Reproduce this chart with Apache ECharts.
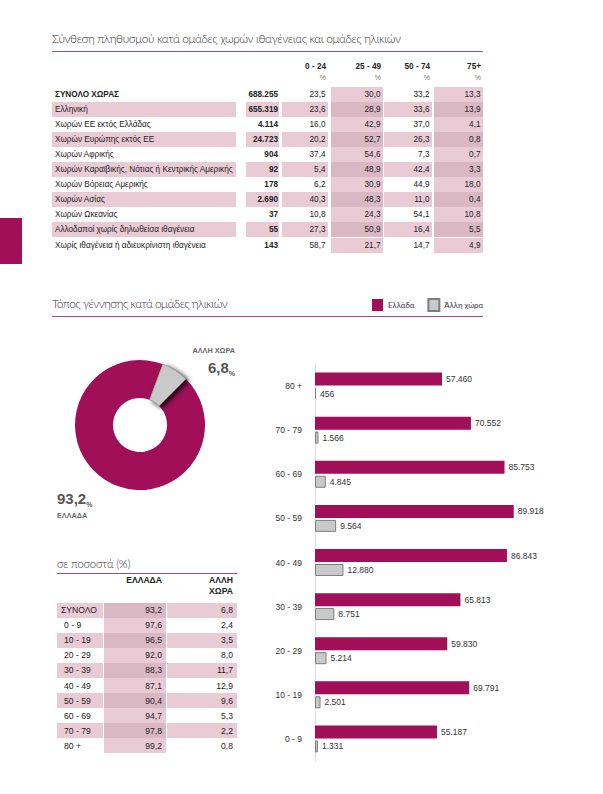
<!DOCTYPE html>
<html><head><meta charset="utf-8">
<script src="https://cdn.jsdelivr.net/npm/echarts@6/dist/echarts.min.js"></script>
<style>
body{margin:0;background:#fff;width:603px;height:794px;position:relative;overflow:hidden;font-family:"Liberation Sans",Arial,sans-serif;color:#222}
#chart{position:absolute;left:0;top:0;width:603px;height:794px}
.abs{position:absolute;white-space:nowrap}
.title{font-family:Lato,sans-serif;font-weight:300;font-size:11.9px;letter-spacing:-0.4px;color:#333;line-height:16px}
.rule{position:absolute;height:1px;background:#a4507e}
.cell{position:absolute;box-sizing:border-box;white-space:nowrap;display:flex;align-items:center}
</style></head>
<body>
<div id="chart"></div>
<div id="tables"></div>
<script>
// ---------- DATA ----------
const groups = ['ΣΥΝΟΛΟ ΧΩΡΑΣ','Ελληνική','Χωρών ΕΕ εκτός Ελλάδας','Χωρών Ευρώπης εκτός ΕΕ','Χωρών Αφρικής','Χωρών Καραϊβικής, Νότιας ή Κεντρικής Αμερικής','Χωρών Βόρειας Αμερικής','Χωρών Ασίας','Χωρών Ωκεανίας','Αλλοδαποί χωρίς δηλωθείσα ιθαγένεια','Χωρίς ιθαγένεια ή αδιευκρίνιστη ιθαγένεια'];
const groupTotals = [688255,655319,4114,24723,904,92,178,2690,37,55,143];
const ageBands = ['0 - 24','25 - 49','50 - 74','75+'];
const age0_24 = [23.5,23.6,16.0,20.2,37.4,5.4,6.2,40.3,10.8,27.3,58.7];
const age25_49 = [30.0,28.9,42.9,52.7,54.6,48.9,30.9,48.3,24.3,50.9,21.7];
const age50_74 = [33.2,33.6,37.0,26.3,7.3,42.4,44.9,11.0,54.1,16.4,14.7];
const age75p = [13.3,13.9,4.1,0.8,0.7,3.3,18.0,0.4,10.8,5.5,4.9];

const pieNames = ['ΕΛΛΑΔΑ','ΑΛΛΗ ΧΩΡΑ'];
const pieValues = [93.2, 6.8];

const ageGroups = ['0 - 9','10 - 19','20 - 29','30 - 39','40 - 49','50 - 59','60 - 69','70 - 79','80 +'];
const bornGreece = [55187,69791,59830,65813,86843,89918,85753,70552,57460];
const bornOther = [1331,2501,5214,8751,12880,9564,4845,1566,456];

const pctRows = ['ΣΥΝΟΛΟ','0 - 9','10 - 19','20 - 29','30 - 39','40 - 49','50 - 59','60 - 69','70 - 79','80 +'];
const pctGreece = [93.2,97.6,96.5,92.0,88.3,87.1,90.4,94.7,97.8,99.2];
const pctOther = [6.8,2.4,3.5,8.0,11.7,12.9,9.6,5.3,2.2,0.8];

const seriesNames = ['Ελλάδα','Άλλη χώρα'];

// ---------- helpers ----------
const dec = v => v.toFixed(1).replace('.', ',');
const thou = v => String(v).replace(/\B(?=(\d{3})+(?!\d))/g, '.');
const MAG = '#a00f58', PINK = '#e9cbd6', PINK2 = '#d9b8c4';
const root = document.getElementById('tables');
function add(html){ root.insertAdjacentHTML('beforeend', html); }
function text(x, y, s, cls, css){ add(`<div class="abs ${cls||''}" style="left:${x}px;top:${y}px;${css||''}">${s}</div>`); }
function cell(l, t, w, h, s, css){ add(`<div class="cell" style="left:${l}px;top:${t}px;width:${w}px;height:${h}px;${css||''}">${s}</div>`); }

// ---------- static page parts ----------
text(52, 31, 'Σύνθεση πληθυσμού κατά ομάδες χωρών ιθαγένειας και ομάδες ηλικιών', 'title');
add('<div class="rule" style="left:52px;top:51px;width:431px"></div>');
text(52, 296, 'Τόπος γέννησης κατά ομάδες ηλικιών', 'title', 'letter-spacing:-0.55px;');
add('<div class="rule" style="left:52px;top:316px;width:431px"></div>');
text(57, 556, 'σε ποσοστά (%)', 'title', 'font-size:11.3px;letter-spacing:-0.2px;');
add('<div class="rule" style="left:57px;top:573px;width:180px"></div>');
add(`<div style="position:absolute;left:0;top:218px;width:22px;height:46px;background:${MAG}"></div>`);

// ---------- top table ----------
(function(){
  const cols = [{l:282,w:46},{l:331,w:52},{l:384,w:48},{l:434,w:49}];
  const vals = [age0_24, age25_49, age50_74, age75p];
  const shaded = [false,true,false,true];
  const fs = 'font-size:8.2px;';
  ageBands.forEach((b,j)=>{
    cell(cols[j].l, 60, cols[j].w, 12, b, fs+'font-weight:bold;justify-content:flex-end;padding-right:2px;');
    cell(cols[j].l, 71, cols[j].w, 12, '%', 'font-size:7px;color:#777;justify-content:flex-end;padding-right:2px;');
  });
  const top0 = 86.5, rh = 15.1;
  groups.forEach((g,i)=>{
    const t = top0 + i*rh;
    const striped = i % 2 === 1;
    const bg = striped ? PINK : 'transparent';
    cell(52, t, 184, rh, g, fs+`background:${bg};padding-left:3px;`+(i===0?'font-weight:bold;':''));
    cell(246, t, 33, rh, thou(groupTotals[i]), fs+`background:${bg};font-weight:bold;justify-content:flex-end;padding-right:1px;`);
    cols.forEach((c,j)=>{
      const cbg = shaded[j] ? (striped ? PINK2 : PINK) : bg;
      cell(c.l, t, c.w, rh, dec(vals[j][i]), fs+`background:${cbg};justify-content:flex-end;padding-right:2.5px;`);
    });
  });
})();

// ---------- lower table ----------
(function(){
  const fs = 'font-size:8.6px;';
  cell(104, 574, 62, 12, 'ΕΛΛΑΔΑ', fs+'font-weight:bold;justify-content:flex-end;padding-right:4px;');
  cell(167, 574, 70, 12, 'ΑΛΛΗ', fs+'font-weight:bold;justify-content:flex-end;padding-right:4px;');
  cell(167, 585, 70, 12, 'ΧΩΡΑ', fs+'font-weight:bold;justify-content:flex-end;padding-right:4px;');
  const top0 = 602.5, rh = 15.1;
  pctRows.forEach((r,i)=>{
    const t = top0 + i*rh;
    const striped = i % 2 === 0;
    const bg = striped ? PINK : 'transparent';
    cell(57, t, 46, rh, r, fs+`background:${bg};padding-left:${i===0?4:7}px;`);
    cell(104, t, 62, rh, dec(pctGreece[i]), fs+`background:${striped?PINK2:PINK};justify-content:flex-end;padding-right:4px;`);
    cell(167, t, 70, rh, dec(pctOther[i]), fs+`background:${bg};justify-content:flex-end;padding-right:4px;`);
  });
})();

// ---------- ECharts ----------
const chart = echarts.init(document.getElementById('chart'), null, {renderer:'svg', width:603, height:794});
const barLabel = {show:true, position:'right', distance:4, fontSize:8.5, color:'#333', fontFamily:'Liberation Sans', formatter:p=>thou(p.value)};
chart.setOption({
  animation:false,
  legend:{
    left:367, top:293, itemWidth:11, itemHeight:12, itemGap:13, selectedMode:false, icon:'rect',
    data: seriesNames,
    textStyle:{fontFamily:'Lato', fontWeight:400, fontSize:7.8, color:'#333', padding:[0,0,0,0]}
  },
  grid:{left:315, top:364, width:221, height:397},
  xAxis:{type:'value', min:0, max:100000, show:false},
  yAxis:{type:'category', data:ageGroups, offset:9,
    axisLine:{lineStyle:{color:'#dddddd'}}, axisTick:{show:false},
    axisLabel:{margin:4, fontSize:8.5, color:'#333', fontFamily:'Liberation Sans'}},
  series:[
    {name:seriesNames[0], type:'bar', data:bornGreece, barWidth:13, barGap:'15%', silent:true,
     itemStyle:{color:MAG}, label:barLabel},
    {name:seriesNames[1], type:'bar', data:bornOther, barWidth:12, barGap:'15%', silent:true,
     itemStyle:{color:'#c9c9c9', borderColor:'#7d7d7d', borderWidth:1}, label:barLabel},
    {type:'pie', center:[140,425], radius:[27,65], startAngle:45, clockwise:true, silent:true,
     data:[
       {name:pieNames[0], value:pieValues[0], itemStyle:{color:MAG}},
       {name:pieNames[1], value:pieValues[1], itemStyle:{color:'#c9c9c9', borderColor:'#666', borderWidth:0.5,
         shadowBlur:5, shadowColor:'rgba(0,0,0,0.85)', shadowOffsetX:3, shadowOffsetY:2}}
     ],
     label:{show:true, position:'outside',
       formatter:p => p.dataIndex===0 ? `{v|${dec(p.value)}}{p|%}\n{n|${p.name}}` : `{n|${p.name}}\n{v|${dec(p.value)}}{p|%}`,
       rich:{
         v:{fontFamily:'Liberation Sans Narrow, Liberation Sans', fontWeight:'bold', fontSize:15, color:'#555', lineHeight:20},
         p:{fontFamily:'Liberation Sans', fontWeight:'bold', fontSize:7, color:'#555', lineHeight:20, verticalAlign:'bottom'},
         n:{fontFamily:'Liberation Sans', fontWeight:'bold', fontSize:7.3, color:'#666', lineHeight:14}
       }},
     labelLine:{show:false},
     labelLayout:p => p.dataIndex===0 ? {x:57, y:488, align:'left', verticalAlign:'top'} : {x:235, y:343, align:'right', verticalAlign:'top'}
    }
  ]
});
</script>
</body></html>
